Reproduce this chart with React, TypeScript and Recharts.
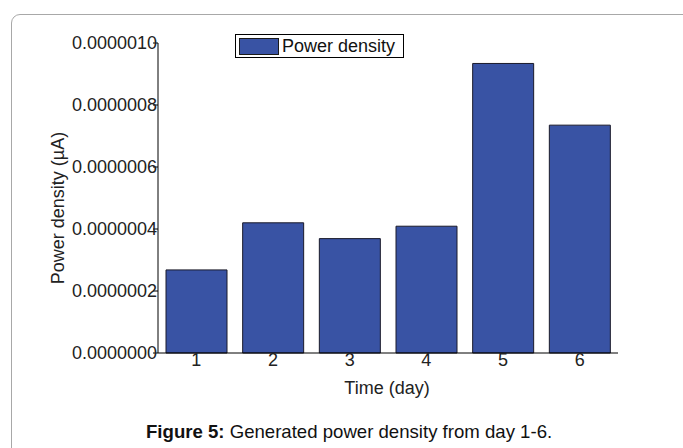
import React from 'react';
import { BarChart, Bar, XAxis, YAxis } from 'recharts';

const days = ['1', '2', '3', '4', '5', '6'];
const powerDensity = [0.268e-6, 0.42e-6, 0.369e-6, 0.409e-6, 0.934e-6, 0.735e-6];
const yTicks = [0, 0.2e-6, 0.4e-6, 0.6e-6, 0.8e-6, 1.0e-6];

const data = days.map((d, i) => ({ day: d, power: powerDensity[i] }));

const FONT = '"Liberation Sans", Arial, sans-serif';

export default function App() {
  return (
    <div
      style={{
        position: 'absolute',
        left: 0,
        top: 0,
        width: 683,
        height: 448,
        overflow: 'hidden',
        background: '#fff',
        fontFamily: FONT,
      }}
    >
      <div
        style={{
          position: 'absolute',
          left: 11,
          top: 14,
          width: 720,
          height: 480,
          border: '1px solid #a8a8a8',
          borderRadius: 9,
          boxSizing: 'border-box',
        }}
      />
      <div style={{ position: 'absolute', left: 0, top: 0 }}>
        <BarChart
          width={683}
          height={448}
          data={data}
          margin={{ top: 43, right: 65, left: 78, bottom: 65 }}
          barCategoryGap={8}
        >
          <XAxis
            dataKey="day"
            axisLine={{ stroke: '#000', strokeWidth: 1 }}
            tickLine={false}
            tickSize={0}
            tickMargin={0}
            height={30}
            tick={{ fill: '#222', fontSize: 18, fontFamily: FONT }}
          />
          <YAxis
            domain={[0, 1e-6]}
            ticks={yTicks}
            width={80}
            axisLine={{ stroke: '#000', strokeWidth: 1 }}
            tickLine={{ stroke: '#000' }}
            tickSize={5}
            tickMargin={-4}
            tickFormatter={(v: number) => v.toFixed(7)}
            tick={{ fill: '#222', fontSize: 18, fontFamily: FONT }}
            interval={0}
          />
          <Bar
            dataKey="power"
            fill="#3953A4"
            stroke="#1a1a2a"
            strokeWidth={1}
            isAnimationActive={false}
          />
        </BarChart>
      </div>
      <div
        style={{
          position: 'absolute',
          left: 235,
          top: 34,
          display: 'flex',
          alignItems: 'center',
          border: '1.5px solid #000',
          background: '#fff',
          padding: '0 6px 0 3px',
          fontSize: 18,
          color: '#111',
          lineHeight: '18px',
          boxSizing: 'border-box',
          height: 24,
          width: 169,
        }}
      >
        <span
          style={{
            display: 'inline-block',
            width: 40,
            height: 17,
            background: '#3953A4',
            border: '1px solid #1a1a1a',
            marginRight: 3,
            boxSizing: 'border-box',
          }}
        />
        <span>Power density</span>
      </div>
      <div
        style={{
          position: 'absolute',
          left: 58,
          top: 208,
          transform: 'translate(-50%, -50%) rotate(-90deg)',
          whiteSpace: 'nowrap',
          fontSize: 18,
          color: '#222',
        }}
      >
        Power density (µA)
      </div>
      <div
        style={{
          position: 'absolute',
          left: 387,
          top: 388,
          transform: 'translate(-50%, -50%)',
          whiteSpace: 'nowrap',
          fontSize: 18,
          color: '#222',
        }}
      >
        Time (day)
      </div>
      <div
        style={{
          position: 'absolute',
          left: 146,
          top: 421,
          whiteSpace: 'nowrap',
          fontSize: 18.6,
          color: '#111',
          lineHeight: '22px',
        }}
      >
        <b>Figure 5:</b> Generated power density from day 1-6.
      </div>
    </div>
  );
}
